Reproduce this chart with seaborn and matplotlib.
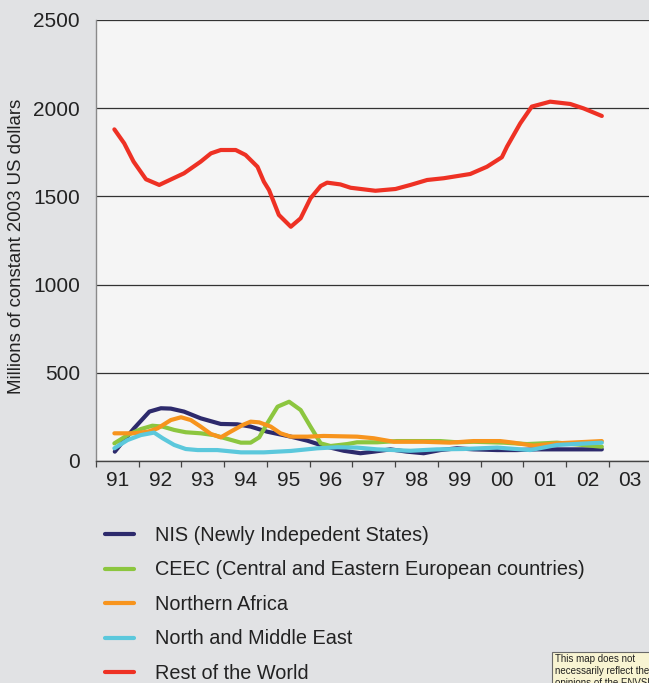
import matplotlib
matplotlib.use("Agg")
import matplotlib.pyplot as plt
from matplotlib.lines import Line2D
from matplotlib.patches import Rectangle
import seaborn as sns
import pandas as pd

# Aid by recipient region, millions of constant 2003 US dollars
nis_x = [1991.44, 1991.66, 1991.89, 1992.25, 1992.52, 1992.75, 1993.06, 1993.45, 1993.92,
         1994.31, 1994.62, 1995.01, 1995.56, 1995.95, 1996.33, 1996.80, 1997.19, 1997.50,
         1997.89, 1998.28, 1998.67, 1999.06, 1999.45, 1999.84, 2000.39, 2000.85, 2001.32,
         2001.79, 2002.84]
nis_y = [53, 119, 185, 280, 299, 297, 280, 242, 210, 208, 195, 166, 138, 115, 85, 58, 44, 53,
         66, 53, 44, 62, 72, 66, 62, 62, 66, 66, 66]

ceec_x = [1991.43, 1991.74, 1992.05, 1992.32, 1992.56, 1992.83, 1993.10, 1993.45, 1993.76,
          1994.08, 1994.39, 1994.62, 1994.82, 1995.01, 1995.25, 1995.52, 1995.79, 1996.02,
          1996.26, 1996.49, 1996.88, 1997.11, 1997.58, 1998.05, 1999.06, 1999.45, 1999.84,
          2000.54, 2001.09, 2001.79, 2002.84]
ceec_y = [100, 147, 181, 200, 195, 176, 163, 157, 147, 125, 104, 104, 134, 214, 308, 336, 289,
          195, 100, 85, 96, 106, 106, 113, 113, 106, 109, 104, 96, 104, 81]

nafrica_x = [1991.43, 1991.89, 1992.21, 1992.44, 1992.75, 1992.99, 1993.22, 1993.45, 1993.69,
             1993.92, 1994.15, 1994.43, 1994.62, 1994.82, 1995.09, 1995.32, 1995.56, 1995.95,
             1996.33, 1997.11, 1997.50, 1997.97, 1998.67, 1999.29, 1999.84, 2000.46, 2000.77,
             2001.24, 2001.79, 2002.84]
nafrica_y = [157, 157, 166, 185, 232, 248, 232, 195, 153, 134, 166, 204, 223, 219, 195, 157,
             138, 138, 142, 138, 129, 109, 109, 104, 113, 113, 104, 87, 100, 113]

nme_x = [1991.43, 1991.74, 1992.05, 1992.36, 1992.56, 1992.83, 1993.10, 1993.38, 1993.84,
         1994.39, 1994.93, 1995.56, 1996.18, 1996.65, 1997.11, 1997.58, 1998.36, 1998.98,
         1999.60, 2000.39, 2001.16, 2001.79, 2002.84]
nme_y = [72, 119, 147, 161, 129, 91, 68, 62, 62, 49, 49, 57, 72, 78, 76, 66, 58, 66, 68, 76,
         62, 91, 104]

row_x = [1991.43, 1991.66, 1991.88, 1992.17, 1992.48, 1993.06, 1993.45, 1993.69, 1993.92,
         1994.27, 1994.50, 1994.78, 1994.93, 1995.05, 1995.28, 1995.56, 1995.79, 1996.02,
         1996.26, 1996.41, 1996.72, 1996.96, 1997.54, 1998.01, 1998.36, 1998.75, 1999.14,
         1999.76, 2000.15, 2000.50, 2000.62, 2000.93, 2001.20, 2001.63, 2002.10, 2002.41,
         2002.84]
row_y = [1880, 1801, 1697, 1597, 1565, 1631, 1697, 1744, 1763, 1763, 1735, 1668, 1583, 1536,
         1395, 1328, 1376, 1489, 1559, 1578, 1568, 1549, 1532, 1542, 1565, 1593, 1603, 1627,
         1668, 1722, 1782, 1914, 2009, 2037, 2024, 1999, 1956]

regions = ["NIS (Newly Indepedent States)",
           "CEEC (Central and Eastern European countries)",
           "Northern Africa",
           "North and Middle East",
           "Rest of the World"]
series = [(nis_x, nis_y), (ceec_x, ceec_y), (nafrica_x, nafrica_y), (nme_x, nme_y), (row_x, row_y)]
colors = ["#2d2a6c", "#8cc63f", "#f7941d", "#5bc8dc", "#ee3124"]

year_labels = ["91", "92", "93", "94", "95", "96", "97", "98", "99", "00", "01", "02", "03"]
first_year = 1991
y_ticks = [0, 500, 1000, 1500, 2000, 2500]

frames = [pd.DataFrame({"year": xs, "value": ys, "region": name})
          for name, (xs, ys) in zip(regions, series)]
df = pd.concat(frames, ignore_index=True)

BG = "#e1e2e4"
PLOT_BG = "#f5f5f5"
TEXT = "#222222"

sns.set_theme(style="white")
plt.rcParams["font.family"] = ["Liberation Sans", "DejaVu Sans"]

W, H = 649, 683
fig = plt.figure(figsize=(W / 100, H / 100), dpi=100, facecolor=BG)
ax = fig.add_axes([96 / W, 222 / H, (651.4 - 96) / W, 441 / H], facecolor=PLOT_BG)

sns.lineplot(data=df, x="year", y="value", hue="region", hue_order=regions,
             palette=colors, estimator=None, linewidth=3, legend=False, ax=ax)

ax.set_xlim(first_year, first_year + len(year_labels))
ax.set_ylim(0, 2500)
ax.set_xlabel("")
ax.set_ylabel("")

# year boundaries carry tick marks, labels sit in the middle of each year
ax.set_xticks([first_year + i for i in range(len(year_labels))])
ax.set_xticklabels([])
ax.set_xticks([first_year + i + 0.5 for i in range(len(year_labels))], minor=True)
ax.set_xticklabels(year_labels, minor=True)
ax.tick_params(axis="x", which="major", direction="out", length=4.5, width=0.9,
               color="#444444", bottom=True)
ax.tick_params(axis="x", which="minor", length=0, pad=7, labelsize=15, labelcolor=TEXT)

ax.set_yticks(y_ticks)
ax.set_yticklabels([str(v) for v in y_ticks])
ax.tick_params(axis="y", length=0, pad=11.5, labelsize=15, labelcolor=TEXT)

ax.yaxis.grid(True, color="#333333", linewidth=0.9)
ax.xaxis.grid(False)
ax.set_axisbelow(True)

for side in ("top", "right"):
    ax.spines[side].set_visible(False)
ax.spines["left"].set_color("#8a8a8a")
ax.spines["left"].set_linewidth(1.0)
ax.spines["bottom"].set_color("#444444")
ax.spines["bottom"].set_linewidth(1.0)

fig.text(17 / W, 1 - 246 / H, "Millions of constant 2003 US dollars", rotation=90,
         ha="center", va="center", fontsize=13.4, color=TEXT)

handles = [Line2D([0], [0], color=c, linewidth=3) for c in colors]
fig.legend(handles, regions, loc="upper left", bbox_to_anchor=(105 / W, 1 - 526 / H),
           frameon=False, fontsize=14.3, handlelength=1.47, handletextpad=1.04,
           labelspacing=0.78, borderaxespad=0, borderpad=0, labelcolor=TEXT)

# disclaimer note in the lower right corner
fig.patches.append(Rectangle((552 / W, -0.01), 0.2, (683 - 652) / H + 0.01,
                             transform=fig.transFigure, facecolor="#f8f4d2",
                             edgecolor="#6a6a6a", linewidth=0.8))
fig.text(555 / W, 1 - 654 / H,
         "This map does not\nnecessarily reflect the\nopinions of the ENVSEC",
         ha="left", va="top", fontsize=7, color="#222222", linespacing=1.25)

fig.savefig("out.png", dpi=100, facecolor=BG)
